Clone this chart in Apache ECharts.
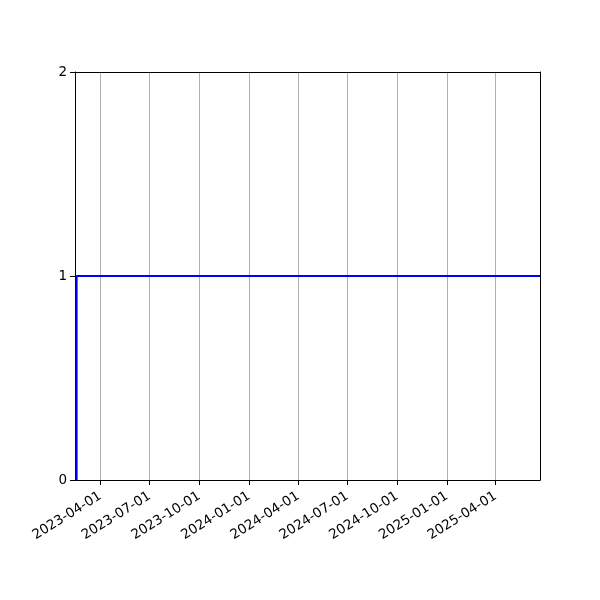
<!DOCTYPE html>
<html>
<head>
<meta charset="utf-8">
<script src="https://cdn.jsdelivr.net/npm/echarts@6/dist/echarts.min.js"></script>
<style>
  html, body { margin: 0; padding: 0; background: #fff; }
  #chart { width: 600px; height: 600px; }
</style>
</head>
<body>
<div id="chart"></div>
<script>
// step series: 0 before the jump, 1 afterwards
const dates = ['2023-02-16', '2023-02-17', '2025-06-22']
const values = [0, 1, 1]
const tickDates = ['2023-04-01', '2023-07-01', '2023-10-01', '2024-01-01', '2024-04-01',
  '2024-07-01', '2024-10-01', '2025-01-01', '2025-04-01']
const yTicks = [0, 1, 2]

const ts = d => new Date(d + 'T00:00:00Z').getTime()
const xMin = ts('2023-02-13')
const xMax = ts('2025-06-22')
const tickValues = tickDates.map(ts)

const font = {fontFamily: 'DejaVu Sans', fontSize: 13.5, color: '#000'}

const fmtDate = v => {
  const d = new Date(v)
  const p = n => String(n).padStart(2, '0')
  return d.getUTCFullYear() + '-' + p(d.getUTCMonth() + 1) + '-' + p(d.getUTCDate())
}

const chart = echarts.init(document.getElementById('chart'), null, {renderer: 'canvas'})
chart.setOption({
  animation: false,
  grid: {left: 75, right: 60, top: 72, bottom: 120, containLabel: false},
  xAxis: [{
    type: 'value',
    min: xMin,
    max: xMax,
    axisLine: {show: true, onZero: false, lineStyle: {color: '#000', width: 1}},
    axisTick: {show: true, length: 5, inside: false, customValues: tickValues, lineStyle: {color: '#000'}},
    axisLabel: {...font, rotate: 32, margin: 15, customValues: tickValues, formatter: fmtDate},
    splitLine: {show: true, lineStyle: {color: '#b0b0b0', width: 1}}
  }, {
    type: 'value',
    position: 'top',
    min: xMin,
    max: xMax,
    axisLine: {show: true, onZero: false, lineStyle: {color: '#000', width: 1}},
    axisTick: {show: false},
    axisLabel: {show: false},
    splitLine: {show: false}
  }],
  yAxis: [{
    type: 'value',
    min: 0,
    max: 2,
    interval: 1,
    axisLine: {show: true, onZero: false, lineStyle: {color: '#000', width: 1}},
    axisTick: {show: true, length: 5, inside: false, customValues: yTicks, lineStyle: {color: '#000'}},
    axisLabel: {...font, margin: 8, customValues: yTicks},
    splitLine: {show: false}
  }, {
    type: 'value',
    position: 'right',
    min: 0,
    max: 2,
    interval: 1,
    axisLine: {show: true, onZero: false, lineStyle: {color: '#000', width: 1}},
    axisTick: {show: false},
    axisLabel: {show: false},
    splitLine: {show: false}
  }],
  series: [{
    type: 'line',
    step: 'start',
    xAxisIndex: 0,
    yAxisIndex: 0,
    data: dates.map((d, i) => [ts(d), values[i]]),
    showSymbol: false,
    lineStyle: {color: '#0000ff', width: 2},
    clip: true
  }]
})
</script>
</body>
</html>
